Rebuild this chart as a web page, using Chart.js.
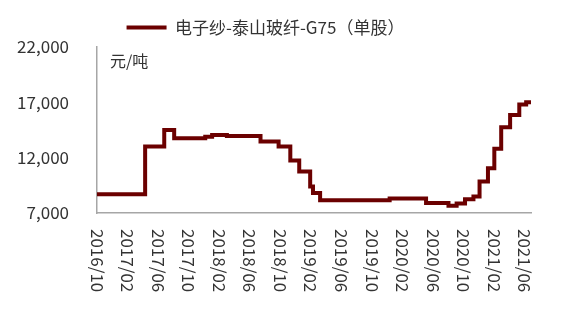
<!DOCTYPE html>
<html>
<head>
<meta charset="utf-8">
<script src="https://cdn.jsdelivr.net/npm/chart.js@4"></script>
<style>
  html, body { margin: 0; padding: 0; background: #fff; }
</style>
</head>
<body>
<canvas id="priceChart" width="575" height="323"></canvas>
<script>
// Step dates: each price holds from its date until the next one
const stepDates = [
    '2016/10/01', '2017/04/10', '2017/06/25', '2017/08/04', '2017/12/06',
    '2018/01/03', '2018/03/01', '2018/07/13', '2018/09/24', '2018/11/10',
    '2018/12/15', '2019/01/28', '2019/02/09', '2019/03/07', '2019/12/10',
    '2020/05/03', '2020/08/01', '2020/09/03', '2020/10/06', '2020/11/09',
    '2020/12/03', '2021/01/06', '2021/02/01', '2021/02/28', '2021/04/03',
    '2021/05/09', '2021/06/06', '2021/06/25'
];
const prices = [
    8700, 13000, 14500, 13750, 13880,
    14050, 13950, 13450, 13000, 11750,
    10750, 9400, 8800, 8150, 8300,
    7900, 7650, 7850, 8250, 8500,
    9850, 11050, 12800, 14750, 15850,
    16800, 17000, 17000
];
const xTickLabels = [
    '2016/10', '2017/02', '2017/06', '2017/10', '2018/02', '2018/06', '2018/10',
    '2019/02', '2019/06', '2019/10', '2020/02', '2020/06', '2020/10', '2021/02', '2021/06'
];
const yTicks = [7000, 12000, 17000, 22000];
const seriesName = '电子纱-泰山玻纤-G75（单股）';
const unitLabel = '元/吨';

const fontFamily = '"Noto Sans CJK SC", "Noto Sans", sans-serif';
const lineColor = '#6b0000';
const axisColor = '#a6a6a6';
const textColor = '#333333';

// months since 2016/10
function monthIndex(s) {
    const [y, m, d] = s.split('/').map(Number);
    return (y - 2016) * 12 + (m - 10) + ((d || 1) - 1) / 30;
}

const points = stepDates.map((d, i) => ({ x: monthIndex(d), y: prices[i] }));

// vertical x labels (read top to bottom) + unit text
const extraText = {
    id: 'extraText',
    afterDraw(chart) {
        const ctx = chart.ctx;
        const xs = chart.scales.x;
        const area = chart.chartArea;
        ctx.save();
        ctx.fillStyle = textColor;
        ctx.font = '17px ' + fontFamily;
        ctx.textAlign = 'left';
        ctx.textBaseline = 'middle';
        xTickLabels.forEach(lbl => {
            const x = xs.getPixelForValue(monthIndex(lbl));
            ctx.save();
            ctx.translate(x, area.bottom + 16);
            ctx.rotate(Math.PI / 2);
            ctx.fillText(lbl, 0, 0);
            ctx.restore();
        });
        ctx.font = '16px ' + fontFamily;
        ctx.fillText(unitLabel, area.left + 13, area.top + 14);
        ctx.restore();
    }
};

const legendHeight = {
    id: 'legendHeight',
    beforeInit(chart) {
        const fit = chart.legend.fit;
        chart.legend.fit = function () {
            fit.bind(chart.legend)();
            this.height = 36;
        };
    }
};

new Chart(document.getElementById('priceChart'), {
    type: 'line',
    data: {
        datasets: [{
            label: seriesName,
            data: points,
            borderColor: lineColor,
            backgroundColor: lineColor,
            borderWidth: 4,
            stepped: true,
            pointRadius: 0,
            fill: false,
        }]
    },
    options: {
        responsive: false,
        animation: false,
        layout: {
            padding: { left: 0, right: 44, top: 11, bottom: 102 }
        },
        plugins: {
            legend: {
                position: 'top',
                labels: {
                    usePointStyle: true,
                    pointStyle: 'line',
                    pointStyleWidth: 40,
                    boxWidth: 40,
                    color: textColor,
                    font: { family: fontFamily, size: 17 },
                    padding: 8,
                }
            },
            tooltip: { enabled: false }
        },
        scales: {
            x: {
                type: 'linear',
                min: 0,
                max: monthIndex(stepDates[stepDates.length - 1]),
                ticks: { display: false },
                grid: { display: false },
                border: { color: axisColor, width: 1.5 }
            },
            y: {
                min: yTicks[0],
                max: yTicks[yTicks.length - 1],
                afterBuildTicks(scale) {
                    scale.ticks = yTicks.map(v => ({ value: v }));
                },
                afterFit(scale) {
                    scale.width = 97;
                },
                ticks: {
                    padding: 28,
                    color: textColor,
                    font: { family: fontFamily, size: 17 },
                    callback: v => v.toLocaleString('en-US')
                },
                grid: { display: false, drawTicks: false },
                border: { color: axisColor, width: 1.5 }
            }
        }
    },
    plugins: [extraText, legendHeight]
});
</script>
</body>
</html>
